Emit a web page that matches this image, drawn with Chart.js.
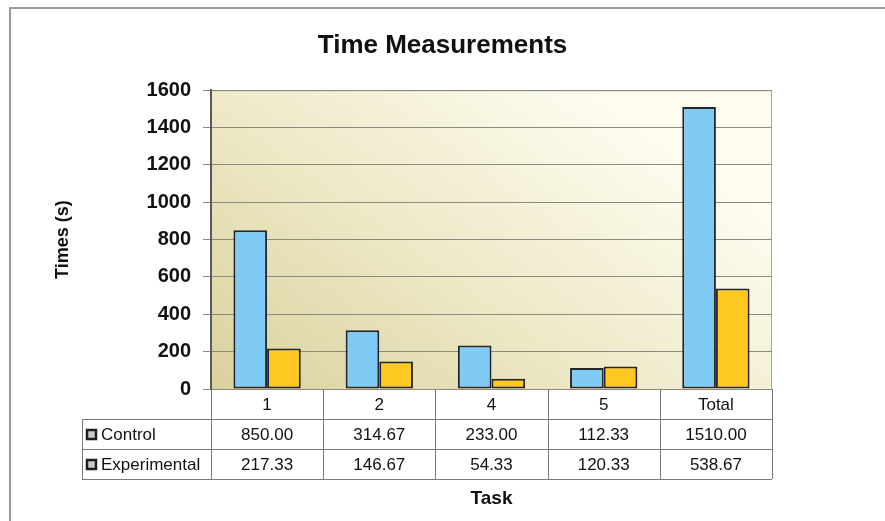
<!DOCTYPE html>
<html>
<head>
<meta charset="utf-8">
<script src="https://cdn.jsdelivr.net/npm/chart.js@4.4.1/dist/chart.umd.min.js"></script>
<style>
  html, body { margin: 0; padding: 0; background: #fff; }
  canvas { display: block; }
</style>
</head>
<body>
<canvas id="timeChart" width="885" height="521"></canvas>
<script>
// chart data
const tasks = ['1', '2', '4', '5', 'Total'];
const seriesNames = ['Control', 'Experimental'];
const controlTimes = [850.00, 314.67, 233.00, 112.33, 1510.00];
const experimentalTimes = [217.33, 146.67, 54.33, 120.33, 538.67];

const FONT = "'Liberation Sans', Arial, sans-serif";

// page frame + gradient plot background
const backdrop = {
    id: 'backdrop',
    beforeDraw(chart) {
        const { ctx, chartArea: a } = chart;
        const w = a.right - a.left, h = a.bottom - a.top;
        ctx.save();
        ctx.fillStyle = '#fff';
        ctx.fillRect(0, 0, chart.width, chart.height);

        // outer frame (only left + top show)
        ctx.strokeStyle = '#9a9a9a';
        ctx.lineWidth = 2;
        ctx.beginPath();
        ctx.moveTo(10, chart.height);
        ctx.lineTo(10, 8);
        ctx.lineTo(chart.width, 8);
        ctx.stroke();

        const g = ctx.createLinearGradient(a.left, a.bottom, a.left + w * 0.5, a.top - h * 0.3);
        g.addColorStop(0, '#d9d19d');
        g.addColorStop(0.5, '#eee9c8');
        g.addColorStop(1, '#fffdf2');
        ctx.fillStyle = g;
        ctx.fillRect(a.left, a.top, w, h);

        ctx.strokeStyle = '#a8a8a0';
        ctx.lineWidth = 1;
        ctx.beginPath();
        ctx.moveTo(a.left, a.top + 0.5);
        ctx.lineTo(a.right - 0.5, a.top + 0.5);
        ctx.lineTo(a.right - 0.5, a.bottom);
        ctx.stroke();
        ctx.restore();
    }
};

// data table under the plot
const dataTable = {
    id: 'dataTable',
    afterDraw(chart) {
        const { ctx, chartArea: a } = chart;
        const x = chart.scales.x;
        const colW = (a.right - a.left) / tasks.length;
        const rowH = 30;
        const top = a.bottom;
        const legendLeft = 82;
        const rows = [controlTimes, experimentalTimes];

        ctx.save();
        ctx.strokeStyle = '#7a7a7a';
        ctx.lineWidth = 1;
        ctx.beginPath();
        for (let r = 1; r <= 3; r++) {
            const y = Math.round(top + r * rowH) + 0.5;
            ctx.moveTo(legendLeft, y);
            ctx.lineTo(a.right, y);
        }
        for (let i = 0; i <= tasks.length; i++) {
            const xx = Math.round(a.left + i * colW) + 0.5;
            ctx.moveTo(xx, top);
            ctx.lineTo(xx, top + 3 * rowH);
        }
        ctx.moveTo(legendLeft + 0.5, top + rowH);
        ctx.lineTo(legendLeft + 0.5, top + 3 * rowH);
        ctx.stroke();

        ctx.fillStyle = '#111';
        ctx.font = '17px ' + FONT;
        ctx.textAlign = 'center';
        ctx.textBaseline = 'middle';
        tasks.forEach((t, i) => {
            const cx = x.getPixelForValue(i);
            ctx.fillText(t, cx, top + rowH / 2 + 1);
            rows.forEach((vals, r) => {
                ctx.fillText(vals[i].toFixed(2), cx, top + (r + 1.5) * rowH + 1);
            });
        });

        // legend keys and series names
        ctx.textAlign = 'left';
        seriesNames.forEach((name, r) => {
            const cy = top + (r + 1.5) * rowH;
            ctx.fillStyle = '#c8c8c8';
            ctx.fillRect(87, cy - 4, 9, 9);
            ctx.strokeStyle = '#1e1e1e';
            ctx.lineWidth = 2.5;
            ctx.strokeRect(87, cy - 4, 9, 9);
            ctx.fillStyle = '#111';
            ctx.fillText(name, 101, cy + 1);
        });
        ctx.restore();
    }
};

new Chart(document.getElementById('timeChart'), {
    type: 'bar',
    data: {
        labels: tasks,
        datasets: [
            {
                label: seriesNames[0],
                data: controlTimes,
                backgroundColor: '#80cbf5',
                borderColor: '#262626',
                borderWidth: 2,
                borderSkipped: false
            },
            {
                label: seriesNames[1],
                data: experimentalTimes,
                backgroundColor: '#ffc823',
                borderColor: '#262626',
                borderWidth: 2,
                borderSkipped: false
            }
        ]
    },
    options: {
        responsive: false,
        animation: false,
        layout: { padding: 0 },
        datasets: { bar: { categoryPercentage: 0.6, barPercentage: 1.0 } },
        plugins: {
            legend: { display: false },
            title: {
                display: true,
                text: 'Time Measurements',
                color: '#111',
                font: { family: FONT, size: 26, weight: 'bold' },
                padding: { top: 30, bottom: 29 }
            }
        },
        scales: {
            x: {
                ticks: { display: false },
                grid: { display: false },
                border: { display: false },
                title: {
                    display: true,
                    text: 'Task',
                    color: '#111',
                    font: { family: FONT, size: 19, weight: 'bold' },
                    padding: { top: 0, bottom: 11 }
                },
                afterFit(scale) { scale.height = 132; }
            },
            y: {
                min: 0,
                max: 1600,
                ticks: {
                    stepSize: 200,
                    color: '#111',
                    padding: 12,
                    font: { family: FONT, size: 20, weight: 'bold' },
                    callback: v => String(v)
                },
                grid: { color: '#8a8a7e', tickLength: 8, tickColor: '#8a8a8a' },
                border: { color: '#5a5a5a', width: 2 },
                title: {
                    display: true,
                    text: 'Times (s)',
                    color: '#111',
                    font: { family: FONT, size: 18, weight: 'bold' },
                    padding: { top: 52, bottom: 0 }
                },
                afterFit(scale) { scale.width = 211; }
            },
            // empty right-hand spacer so the plot ends where the reference does
            spacer: {
                position: 'right',
                display: true,
                min: 0,
                max: 1600,
                ticks: { display: false },
                grid: { display: false, drawOnChartArea: false },
                border: { display: false },
                afterFit(scale) { scale.width = 113; }
            }
        }
    },
    plugins: [backdrop, dataTable]
});
</script>
</body>
</html>
